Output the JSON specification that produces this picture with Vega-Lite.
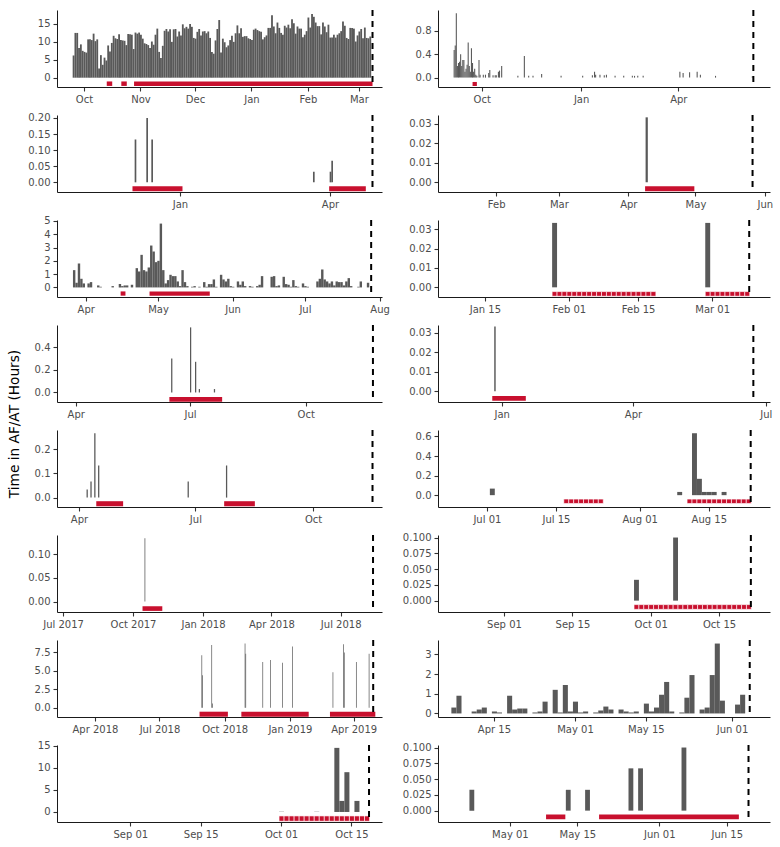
{
"$schema":"https://vega.github.io/schema/vega-lite/v6.json",
"background":"white",
"padding":{"left":8,"top":9,"right":4,"bottom":4},
"title":{"text":"Time in AF/AT (Hours)","orient":"left","anchor":"middle","fontSize":13.7,"fontWeight":"normal","font":"DejaVu Sans","color":"black","offset":6},
"columns":2,
"bounds":"flush",
"spacing":{"row":28,"column":56},
"config":{"view":{"stroke":null},"font":"DejaVu Sans",
"axis":{"grid":false,"domainColor":"#1a1a1a","domainWidth":1,"tickColor":"#333333","tickWidth":1.1,"tickSize":4,"labelColor":"#4d4d4d","labelFontSize":10,"labelFont":"DejaVu Sans","labelPadding":3,"labelFlush":false,"labelOverlap":false}},
"datasets":{
"bL1":[{"d":"2018-09-25","v":6.2},{"d":"2018-09-26","v":12.5},{"d":"2018-09-27","v":12.5},{"d":"2018-09-28","v":8.3},{"d":"2018-09-29","v":9.3},{"d":"2018-09-30","v":7.5},
{"d":"2018-10-01","v":7.2},{"d":"2018-10-02","v":7.0},{"d":"2018-10-03","v":10.7},{"d":"2018-10-04","v":10.7},{"d":"2018-10-05","v":10.5},{"d":"2018-10-06","v":12.3},{"d":"2018-10-07","v":10.2},{"d":"2018-10-08","v":10.7},{"d":"2018-10-09","v":2.6},{"d":"2018-10-10","v":6.3},{"d":"2018-10-11","v":3.6},{"d":"2018-10-12","v":5.6},{"d":"2018-10-13","v":4.8},{"d":"2018-10-14","v":9.0},{"d":"2018-10-15","v":7.3},{"d":"2018-10-16","v":9.7},{"d":"2018-10-17","v":11.7},{"d":"2018-10-18","v":11.0},{"d":"2018-10-19","v":10.8},{"d":"2018-10-20","v":12.1},{"d":"2018-10-21","v":10.5},{"d":"2018-10-22","v":10.4},{"d":"2018-10-23","v":10.3},{"d":"2018-10-24","v":9.1},{"d":"2018-10-25","v":12.2},{"d":"2018-10-26","v":12.1},{"d":"2018-10-27","v":12.0},{"d":"2018-10-28","v":8.0},{"d":"2018-10-29","v":12.6},{"d":"2018-10-30","v":12.3},{"d":"2018-10-31","v":12.6},
{"d":"2018-11-01","v":12.0},{"d":"2018-11-02","v":10.9},{"d":"2018-11-03","v":9.6},{"d":"2018-11-04","v":9.4},{"d":"2018-11-05","v":9.1},{"d":"2018-11-06","v":8.3},{"d":"2018-11-07","v":10.1},{"d":"2018-11-08","v":9.2},{"d":"2018-11-09","v":12.0},{"d":"2018-11-10","v":13.7},{"d":"2018-11-11","v":7.2},{"d":"2018-11-12","v":5.5},{"d":"2018-11-13","v":8.9},{"d":"2018-11-14","v":13.1},{"d":"2018-11-15","v":13.6},{"d":"2018-11-16","v":12.9},{"d":"2018-11-17","v":13.5},{"d":"2018-11-18","v":10.0},{"d":"2018-11-19","v":13.5},{"d":"2018-11-20","v":13.6},{"d":"2018-11-21","v":11.5},{"d":"2018-11-22","v":12.9},{"d":"2018-11-23","v":11.8},{"d":"2018-11-24","v":14.9},{"d":"2018-11-25","v":13.8},{"d":"2018-11-26","v":14.2},{"d":"2018-11-27","v":13.7},{"d":"2018-11-28","v":15.0},{"d":"2018-11-29","v":14.2},{"d":"2018-11-30","v":11.1},
{"d":"2018-12-01","v":10.9},{"d":"2018-12-02","v":12.8},{"d":"2018-12-03","v":13.6},{"d":"2018-12-04","v":11.8},{"d":"2018-12-05","v":12.9},{"d":"2018-12-06","v":13.0},{"d":"2018-12-07","v":12.4},{"d":"2018-12-08","v":12.9},{"d":"2018-12-09","v":11.1},{"d":"2018-12-10","v":7.2},{"d":"2018-12-11","v":6.7},{"d":"2018-12-12","v":10.4},{"d":"2018-12-13","v":13.6},{"d":"2018-12-14","v":16.1},{"d":"2018-12-15","v":7.0},{"d":"2018-12-16","v":10.9},{"d":"2018-12-17","v":9.9},{"d":"2018-12-18","v":8.5},{"d":"2018-12-19","v":9.0},{"d":"2018-12-20","v":10.5},{"d":"2018-12-21","v":11.7},{"d":"2018-12-22","v":10.0},{"d":"2018-12-23","v":12.4},{"d":"2018-12-24","v":14.6},{"d":"2018-12-25","v":12.4},{"d":"2018-12-26","v":13.8},{"d":"2018-12-27","v":11.4},{"d":"2018-12-28","v":11.6},{"d":"2018-12-29","v":11.6},{"d":"2018-12-30","v":11.0},{"d":"2018-12-31","v":10.8},
{"d":"2019-01-01","v":10.5},{"d":"2019-01-02","v":13.4},{"d":"2019-01-03","v":13.7},{"d":"2019-01-04","v":13.3},{"d":"2019-01-05","v":13.0},{"d":"2019-01-06","v":12.8},{"d":"2019-01-07","v":10.7},{"d":"2019-01-08","v":11.3},{"d":"2019-01-09","v":11.8},{"d":"2019-01-10","v":13.9},{"d":"2019-01-11","v":13.9},{"d":"2019-01-12","v":17.4},{"d":"2019-01-13","v":14.3},{"d":"2019-01-14","v":12.4},{"d":"2019-01-15","v":15.4},{"d":"2019-01-16","v":13.9},{"d":"2019-01-17","v":12.5},{"d":"2019-01-18","v":12.0},{"d":"2019-01-19","v":14.5},{"d":"2019-01-20","v":14.0},{"d":"2019-01-21","v":14.8},{"d":"2019-01-22","v":13.8},{"d":"2019-01-23","v":16.3},{"d":"2019-01-24","v":15.2},{"d":"2019-01-25","v":12.3},{"d":"2019-01-26","v":14.3},{"d":"2019-01-27","v":13.7},{"d":"2019-01-28","v":13.7},{"d":"2019-01-29","v":11.3},{"d":"2019-01-30","v":12.0},{"d":"2019-01-31","v":13.0},
{"d":"2019-02-01","v":16.8},{"d":"2019-02-02","v":14.0},{"d":"2019-02-03","v":17.8},{"d":"2019-02-04","v":17.0},{"d":"2019-02-05","v":15.4},{"d":"2019-02-06","v":14.4},{"d":"2019-02-07","v":14.4},{"d":"2019-02-08","v":12.1},{"d":"2019-02-09","v":15.4},{"d":"2019-02-10","v":14.3},{"d":"2019-02-11","v":12.7},{"d":"2019-02-12","v":14.8},{"d":"2019-02-13","v":11.2},{"d":"2019-02-14","v":11.2},{"d":"2019-02-15","v":12.0},{"d":"2019-02-16","v":11.2},{"d":"2019-02-17","v":12.0},{"d":"2019-02-18","v":12.4},{"d":"2019-02-19","v":13.0},{"d":"2019-02-20","v":15.7},{"d":"2019-02-21","v":14.5},{"d":"2019-02-22","v":11.1},{"d":"2019-02-23","v":10.8},{"d":"2019-02-24","v":13.9},{"d":"2019-02-25","v":13.9},{"d":"2019-02-26","v":13.7},{"d":"2019-02-27","v":10.1},{"d":"2019-02-28","v":11.8},
{"d":"2019-03-01","v":12.9},{"d":"2019-03-02","v":13.6},{"d":"2019-03-03","v":11.0},{"d":"2019-03-04","v":14.0},{"d":"2019-03-05","v":11.1},{"d":"2019-03-06","v":11.0},{"d":"2019-03-07","v":11.5}],
"rL1":[{"s":"2018-10-14","e":"2018-10-17"},{"s":"2018-10-22","e":"2018-10-25"},{"s":"2018-10-29","e":"2019-03-09"}],
"bR1":[{"d":"2018-09-05","v":0.47},{"d":"2018-09-06","v":0.55},{"d":"2018-09-07","v":1.1},{"d":"2018-09-08","v":0.2},{"d":"2018-09-09","v":0.25},{"d":"2018-09-10","v":0.27},{"d":"2018-09-11","v":0.4},{"d":"2018-09-12","v":0.2},{"d":"2018-09-13","v":0.3},{"d":"2018-09-14","v":0.3},{"d":"2018-09-15","v":0.1},{"d":"2018-09-16","v":0.15},{"d":"2018-09-17","v":0.22},{"d":"2018-09-18","v":0.6},{"d":"2018-09-19","v":0.2},{"d":"2018-09-20","v":0.1},{"d":"2018-09-21","v":0.5},{"d":"2018-09-22","v":0.25},{"d":"2018-09-23","v":0.1},{"d":"2018-09-24","v":0.15},{"d":"2018-09-25","v":0.05},{"d":"2018-09-26","v":0.03},{"d":"2018-09-28","v":0.3},{"d":"2018-09-29","v":0.05},{"d":"2018-10-02","v":0.05},{"d":"2018-10-04","v":0.05},{"d":"2018-10-07","v":0.08},{"d":"2018-10-08","v":0.13},{"d":"2018-10-11","v":0.04},{"d":"2018-10-13","v":0.04},{"d":"2018-10-14","v":0.04},{"d":"2018-10-16","v":0.1},{"d":"2018-10-17","v":0.12},{"d":"2018-10-19","v":0.2},{"d":"2018-11-03","v":0.03},{"d":"2018-11-09","v":0.37},{"d":"2018-11-13","v":0.03},{"d":"2018-11-17","v":0.03},{"d":"2018-11-25","v":0.06},{"d":"2018-12-13","v":0.03},{"d":"2019-01-02","v":0.03},{"d":"2019-01-11","v":0.04},{"d":"2019-01-13","v":0.1},{"d":"2019-01-14","v":0.05},{"d":"2019-01-18","v":0.05},{"d":"2019-01-22","v":0.04},{"d":"2019-01-24","v":0.05},{"d":"2019-02-01","v":0.03},{"d":"2019-02-09","v":0.03},{"d":"2019-02-17","v":0.03},{"d":"2019-02-19","v":0.03},{"d":"2019-02-22","v":0.03},{"d":"2019-02-27","v":0.03},{"d":"2019-04-02","v":0.1},{"d":"2019-04-05","v":0.08},{"d":"2019-04-11","v":0.09},{"d":"2019-04-18","v":0.1},{"d":"2019-04-21","v":0.05},{"d":"2019-05-05","v":0.03},{"d":"2019-06-08","v":0.02}],
"rR1":[{"s":"2018-09-23","e":"2018-09-27"}],
"bL2":[{"d":"2018-12-05","v":0.133},{"d":"2018-12-12","v":0.2},{"d":"2018-12-15","v":0.133},{"d":"2019-03-22","v":0.033},{"d":"2019-04-01","v":0.033},{"d":"2019-04-02","v":0.067}],
"rL2":[{"s":"2018-12-04","e":"2019-01-03"},{"s":"2019-04-01","e":"2019-04-23"}],
"bR2":[{"d":"2019-04-09","v":0.0333}],
"rR2":[{"s":"2019-04-09","e":"2019-05-01"}],
"bL3":[{"d":"2019-03-27","v":1.3},{"d":"2019-03-28","v":0.35},{"d":"2019-03-29","v":1.8},{"d":"2019-03-30","v":0.65},{"d":"2019-03-31","v":0.3},{"d":"2019-04-02","v":0.3},{"d":"2019-04-03","v":0.4},{"d":"2019-04-06","v":0.15},{"d":"2019-04-07","v":0.05},{"d":"2019-04-12","v":0.1},{"d":"2019-04-15","v":0.25},{"d":"2019-04-16","v":0.1},{"d":"2019-04-17","v":0.15},{"d":"2019-04-18","v":0.15},{"d":"2019-04-20","v":0.2},{"d":"2019-04-22","v":1.45},{"d":"2019-04-23","v":1.2},{"d":"2019-04-24","v":2.45},{"d":"2019-04-25","v":1.3},{"d":"2019-04-26","v":1.2},{"d":"2019-04-27","v":1.5},{"d":"2019-04-28","v":3.15},{"d":"2019-04-29","v":2.7},{"d":"2019-04-30","v":1.9},{"d":"2019-05-01","v":2.0},{"d":"2019-05-02","v":4.8},{"d":"2019-05-03","v":1.3},{"d":"2019-05-04","v":0.3},{"d":"2019-05-05","v":0.55},{"d":"2019-05-06","v":0.95},{"d":"2019-05-07","v":0.85},{"d":"2019-05-08","v":0.85},{"d":"2019-05-09","v":0.45},{"d":"2019-05-10","v":0.1},{"d":"2019-05-11","v":1.3},{"d":"2019-05-12","v":0.4},{"d":"2019-05-13","v":0.1},{"d":"2019-05-15","v":0.05},{"d":"2019-05-16","v":0.1},{"d":"2019-05-18","v":0.05},{"d":"2019-05-20","v":0.4},{"d":"2019-05-21","v":0.05},{"d":"2019-05-22","v":0.25},{"d":"2019-05-23","v":0.25},{"d":"2019-05-24","v":0.6},{"d":"2019-05-25","v":0.05},{"d":"2019-05-27","v":0.95},{"d":"2019-05-28","v":0.6},{"d":"2019-05-29","v":0.45},{"d":"2019-05-30","v":0.65},{"d":"2019-05-31","v":0.1},{"d":"2019-06-01","v":0.05},{"d":"2019-06-03","v":0.45},{"d":"2019-06-04","v":0.2},{"d":"2019-06-05","v":0.45},{"d":"2019-06-06","v":0.1},{"d":"2019-06-08","v":0.1},{"d":"2019-06-09","v":0.05},{"d":"2019-06-11","v":0.1},{"d":"2019-06-12","v":0.2},{"d":"2019-06-13","v":0.85},{"d":"2019-06-17","v":0.8},{"d":"2019-06-18","v":0.85},{"d":"2019-06-19","v":0.1},{"d":"2019-06-20","v":0.15},{"d":"2019-06-22","v":0.8},{"d":"2019-06-23","v":0.25},{"d":"2019-06-24","v":0.2},{"d":"2019-06-25","v":0.05},{"d":"2019-06-26","v":0.55},{"d":"2019-06-27","v":0.1},{"d":"2019-06-28","v":0.05},{"d":"2019-06-30","v":0.3},{"d":"2019-07-01","v":0.1},{"d":"2019-07-02","v":0.05},{"d":"2019-07-06","v":0.45},{"d":"2019-07-07","v":0.65},{"d":"2019-07-08","v":1.35},{"d":"2019-07-09","v":0.6},{"d":"2019-07-10","v":0.45},{"d":"2019-07-11","v":0.3},{"d":"2019-07-12","v":0.45},{"d":"2019-07-13","v":0.15},{"d":"2019-07-14","v":0.45},{"d":"2019-07-15","v":0.4},{"d":"2019-07-16","v":0.4},{"d":"2019-07-17","v":0.15},{"d":"2019-07-18","v":0.45},{"d":"2019-07-19","v":0.7},{"d":"2019-07-20","v":0.1},{"d":"2019-07-23","v":0.05},{"d":"2019-07-24","v":0.45},{"d":"2019-07-27","v":0.35}],
"rL3":[{"s":"2019-04-16","e":"2019-04-18"},{"s":"2019-04-28","e":"2019-05-23"}],
"bR3":[{"d":"2020-01-29","v":0.0333},{"d":"2020-02-29","v":0.0333}],
"dR3":[{"d":"2020-01-29"},{"d":"2020-01-30"},{"d":"2020-01-31"},{"d":"2020-02-01"},{"d":"2020-02-02"},{"d":"2020-02-03"},{"d":"2020-02-04"},{"d":"2020-02-05"},{"d":"2020-02-06"},{"d":"2020-02-07"},{"d":"2020-02-08"},{"d":"2020-02-09"},{"d":"2020-02-10"},{"d":"2020-02-11"},{"d":"2020-02-12"},{"d":"2020-02-13"},{"d":"2020-02-14"},{"d":"2020-02-15"},{"d":"2020-02-16"},{"d":"2020-02-17"},{"d":"2020-02-18"},{"d":"2020-02-29"},{"d":"2020-03-01"},{"d":"2020-03-02"},{"d":"2020-03-03"},{"d":"2020-03-04"},{"d":"2020-03-05"},{"d":"2020-03-06"},{"d":"2020-03-07"},{"d":"2020-03-08"}],
"bL4":[{"d":"2019-06-16","v":0.3},{"d":"2019-07-01","v":0.573},{"d":"2019-07-05","v":0.27},{"d":"2019-07-08","v":0.03},{"d":"2019-07-20","v":0.03}],
"rL4":[{"s":"2019-06-15","e":"2019-07-27"}],
"bR4":[{"d":"2018-12-27","v":0.0333}],
"rR4":[{"s":"2018-12-26","e":"2019-01-18"}],
"bL5":[{"d":"2019-04-07","v":0.033},{"d":"2019-04-10","v":0.067},{"d":"2019-04-13","v":0.267},{"d":"2019-04-16","v":0.133},{"d":"2019-06-25","v":0.067},{"d":"2019-07-25","v":0.133}],
"rL5":[{"s":"2019-04-15","e":"2019-05-06"},{"s":"2019-07-24","e":"2019-08-17"}],
"bR5":[{"d":"2019-07-02","v":0.067},{"d":"2019-08-09","v":0.033},{"d":"2019-08-12","v":0.633},{"d":"2019-08-13","v":0.167},{"d":"2019-08-14","v":0.033},{"d":"2019-08-15","v":0.033},{"d":"2019-08-16","v":0.033},{"d":"2019-08-18","v":0.033}],
"dR5":[{"d":"2019-07-17"},{"d":"2019-07-18"},{"d":"2019-07-19"},{"d":"2019-07-20"},{"d":"2019-07-21"},{"d":"2019-07-22"},{"d":"2019-07-23"},{"d":"2019-07-24"},{"d":"2019-08-11"},{"d":"2019-08-12"},{"d":"2019-08-13"},{"d":"2019-08-14"},{"d":"2019-08-15"},{"d":"2019-08-16"},{"d":"2019-08-17"},{"d":"2019-08-18"},{"d":"2019-08-19"},{"d":"2019-08-20"},{"d":"2019-08-21"},{"d":"2019-08-22"},{"d":"2019-08-23"}],
"bL6":[{"d":"2017-10-16","v":0.133}],
"rL6":[{"s":"2017-10-14","e":"2017-11-09"}],
"bR6":[{"d":"2019-09-28","v":0.033},{"d":"2019-10-06","v":0.1}],
"dR6":[{"d":"2019-09-28"},{"d":"2019-09-29"},{"d":"2019-09-30"},{"d":"2019-10-01"},{"d":"2019-10-02"},{"d":"2019-10-03"},{"d":"2019-10-04"},{"d":"2019-10-05"},{"d":"2019-10-06"},{"d":"2019-10-07"},{"d":"2019-10-08"},{"d":"2019-10-09"},{"d":"2019-10-10"},{"d":"2019-10-11"},{"d":"2019-10-12"},{"d":"2019-10-13"},{"d":"2019-10-14"},{"d":"2019-10-15"},{"d":"2019-10-16"},{"d":"2019-10-17"},{"d":"2019-10-18"},{"d":"2019-10-19"},{"d":"2019-10-20"},{"d":"2019-10-21"}],
"bL7":[{"d":"2018-08-29","v":7.1},{"d":"2018-08-30","v":4.4},{"d":"2018-09-12","v":8.5},{"d":"2018-09-13","v":0.55},{"d":"2018-10-29","v":8.7},{"d":"2018-10-30","v":7.3},{"d":"2018-11-23","v":6.2},{"d":"2018-12-04","v":6.45},{"d":"2018-12-21","v":6.1},{"d":"2019-01-04","v":8.3},{"d":"2019-03-02","v":4.8},{"d":"2019-03-17","v":8.6},{"d":"2019-03-18","v":7.5},{"d":"2019-04-04","v":6.2},{"d":"2019-04-22","v":7.3}],
"rL7":[{"s":"2018-08-27","e":"2018-10-06"},{"s":"2018-10-25","e":"2019-01-28"},{"s":"2019-02-27","e":"2019-05-02"}],
"bR7":[{"d":"2019-04-07","v":0.3},{"d":"2019-04-08","v":0.9},{"d":"2019-04-11","v":0.1},{"d":"2019-04-12","v":0.2},{"d":"2019-04-13","v":0.3},{"d":"2019-04-15","v":0.1},{"d":"2019-04-16","v":0.05},{"d":"2019-04-18","v":0.9},{"d":"2019-04-19","v":0.2},{"d":"2019-04-20","v":0.25},{"d":"2019-04-21","v":0.25},{"d":"2019-04-23","v":0.05},{"d":"2019-04-24","v":0.1},{"d":"2019-04-25","v":0.6},{"d":"2019-04-27","v":1.2},{"d":"2019-04-28","v":0.05},{"d":"2019-04-29","v":1.45},{"d":"2019-04-30","v":0.1},{"d":"2019-05-01","v":0.6},{"d":"2019-05-02","v":0.05},{"d":"2019-05-03","v":0.1},{"d":"2019-05-05","v":0.05},{"d":"2019-05-06","v":0.15},{"d":"2019-05-07","v":0.35},{"d":"2019-05-08","v":0.2},{"d":"2019-05-10","v":0.2},{"d":"2019-05-11","v":0.1},{"d":"2019-05-12","v":0.05},{"d":"2019-05-13","v":0.1},{"d":"2019-05-15","v":0.5},{"d":"2019-05-16","v":0.1},{"d":"2019-05-17","v":0.3},{"d":"2019-05-18","v":0.95},{"d":"2019-05-19","v":1.6},{"d":"2019-05-20","v":0.1},{"d":"2019-05-22","v":0.05},{"d":"2019-05-23","v":0.8},{"d":"2019-05-24","v":1.95},{"d":"2019-05-26","v":0.2},{"d":"2019-05-27","v":0.3},{"d":"2019-05-28","v":1.95},{"d":"2019-05-29","v":3.55},{"d":"2019-05-30","v":0.65},{"d":"2019-06-02","v":0.45},{"d":"2019-06-03","v":0.95}],
"bL8":[{"d":"2018-10-01","v":0.05},{"d":"2018-10-08","v":0.05},{"d":"2018-10-12","v":14.5},{"d":"2018-10-13","v":2.5},{"d":"2018-10-14","v":9.0},{"d":"2018-10-16","v":2.5}],
"dL8":[{"d":"2018-10-01"},{"d":"2018-10-02"},{"d":"2018-10-03"},{"d":"2018-10-04"},{"d":"2018-10-05"},{"d":"2018-10-06"},{"d":"2018-10-07"},{"d":"2018-10-08"},{"d":"2018-10-09"},{"d":"2018-10-10"},{"d":"2018-10-11"},{"d":"2018-10-12"},{"d":"2018-10-13"},{"d":"2018-10-14"},{"d":"2018-10-15"},{"d":"2018-10-16"},{"d":"2018-10-17"},{"d":"2018-10-18"}],
"bR8":[{"d":"2019-04-23","v":0.033},{"d":"2019-05-13","v":0.033},{"d":"2019-05-17","v":0.033},{"d":"2019-05-26","v":0.067},{"d":"2019-05-28","v":0.067},{"d":"2019-06-06","v":0.1}],
"rR8":[{"s":"2019-05-09","e":"2019-05-13"},{"s":"2019-05-20","e":"2019-06-18"}]
},
"concat":[
{"width":325,"height":77,"resolve":{"axis":{"x":"independent","y":"independent"}},"layer":[
{"data":{"name":"bL1"},"mark":{"type":"bar","color":"#595959","binSpacing":0,"timeUnitBandSize":0.9},"encoding":{"x":{"field":"d","type":"temporal","timeUnit":"utcyearmonthdate","title":null,"scale":{"type":"utc","nice":false,"domain":[{"year":2018,"month":9,"date":16,"hours":16,"utc":true},{"year":2019,"month":3,"date":14,"hours":5,"utc":true}]},"axis":{"format":"%b","values":[{"year":2018,"month":10,"date":1,"hours":12,"utc":true},{"year":2018,"month":11,"date":1,"hours":12,"utc":true},{"year":2018,"month":12,"date":1,"hours":12,"utc":true},{"year":2019,"month":1,"date":1,"hours":12,"utc":true},{"year":2019,"month":2,"date":1,"hours":12,"utc":true},{"year":2019,"month":3,"date":1,"hours":12,"utc":true}]}},"y":{"field":"v","type":"quantitative","title":null,"scale":{"nice":false,"zero":false,"domain":[-2.6,18.9]},"axis":{"format":"d","values":[0,5,10,15]}}}},
{"data":{"name":"rL1"},"mark":{"type":"rect","color":"#C8102E"},"encoding":{"x":{"field":"s","type":"temporal","title":null,"axis":null},"x2":{"field":"e"},"y":{"datum":-1.05,"axis":null},"y2":{"datum":-2.3}}},
{"data":{"values":[{"d":"2019-03-09"}]},"mark":{"type":"rule","color":"black","strokeDash":[6,5],"strokeWidth":2,"timeUnitBandPosition":0.5},"encoding":{"x":{"field":"d","type":"temporal","timeUnit":"utcyearmonthdate","title":null,"axis":null}}}
]},
{"width":332,"height":77,"resolve":{"axis":{"x":"independent","y":"independent"}},"layer":[
{"data":{"name":"bR1"},"mark":{"type":"bar","color":"#595959","binSpacing":0,"timeUnitBandSize":0.9},"encoding":{"x":{"field":"d","type":"temporal","timeUnit":"utcyearmonthdate","title":null,"scale":{"type":"utc","nice":false,"domain":[{"year":2018,"month":8,"date":22,"utc":true},{"year":2019,"month":6,"date":25,"hours":10,"utc":true}]},"axis":{"format":"%b","values":[{"year":2018,"month":10,"date":1,"hours":12,"utc":true},{"year":2019,"month":1,"date":1,"hours":12,"utc":true},{"year":2019,"month":4,"date":1,"hours":12,"utc":true}]}},"y":{"field":"v","type":"quantitative","title":null,"scale":{"nice":false,"zero":false,"domain":[-0.16,1.154]},"axis":{"format":".1f","values":[0,0.4,0.8]}}}},
{"data":{"name":"rR1"},"mark":{"type":"rect","color":"#C8102E"},"encoding":{"x":{"field":"s","type":"temporal","title":null,"axis":null},"x2":{"field":"e"},"y":{"datum":-0.074,"axis":null},"y2":{"datum":-0.143}}},
{"data":{"values":[{"d":"2019-06-10"}]},"mark":{"type":"rule","color":"black","strokeDash":[6,5],"strokeWidth":2,"timeUnitBandPosition":0.5},"encoding":{"x":{"field":"d","type":"temporal","timeUnit":"utcyearmonthdate","title":null,"axis":null}}}
]},
{"width":325,"height":77,"resolve":{"axis":{"x":"independent","y":"independent"}},"layer":[
{"data":{"name":"bL2"},"mark":{"type":"bar","color":"#595959","binSpacing":0,"timeUnitBandSize":0.9},"encoding":{"x":{"field":"d","type":"temporal","timeUnit":"utcyearmonthdate","title":null,"scale":{"type":"utc","nice":false,"domain":[{"year":2018,"month":10,"date":19,"hours":17,"utc":true},{"year":2019,"month":5,"date":2,"hours":17,"utc":true}]},"axis":{"format":"%b","values":[{"year":2019,"month":1,"date":1,"hours":12,"utc":true},{"year":2019,"month":4,"date":1,"hours":12,"utc":true}]}},"y":{"field":"v","type":"quantitative","title":null,"scale":{"nice":false,"zero":false,"domain":[-0.03,0.209]},"axis":{"format":".2f","values":[0,0.05,0.1,0.15,0.2]}}}},
{"data":{"name":"rL2"},"mark":{"type":"rect","color":"#C8102E"},"encoding":{"x":{"field":"s","type":"temporal","title":null,"axis":null},"x2":{"field":"e"},"y":{"datum":-0.0125,"axis":null},"y2":{"datum":-0.028}}},
{"data":{"values":[{"d":"2019-04-27"}]},"mark":{"type":"rule","color":"black","strokeDash":[6,5],"strokeWidth":2,"timeUnitBandPosition":0.5},"encoding":{"x":{"field":"d","type":"temporal","timeUnit":"utcyearmonthdate","title":null,"axis":null}}}
]},
{"width":332,"height":77,"resolve":{"axis":{"x":"independent","y":"independent"}},"layer":[
{"data":{"name":"bR2"},"mark":{"type":"bar","color":"#595959","binSpacing":0,"timeUnitBandSize":0.9},"encoding":{"x":{"field":"d","type":"temporal","timeUnit":"utcyearmonthdate","title":null,"scale":{"type":"utc","nice":false,"domain":[{"year":2019,"month":1,"date":6,"hours":12,"utc":true},{"year":2019,"month":6,"date":3,"hours":19,"utc":true}]},"axis":{"format":"%b","values":[{"year":2019,"month":2,"date":1,"hours":12,"utc":true},{"year":2019,"month":3,"date":1,"hours":12,"utc":true},{"year":2019,"month":4,"date":1,"hours":12,"utc":true},{"year":2019,"month":5,"date":1,"hours":12,"utc":true},{"year":2019,"month":6,"date":1,"hours":12,"utc":true}]}},"y":{"field":"v","type":"quantitative","title":null,"scale":{"nice":false,"zero":false,"domain":[-0.005,0.0345]},"axis":{"format":".2f","values":[0,0.01,0.02,0.03]}}}},
{"data":{"name":"rR2"},"mark":{"type":"rect","color":"#C8102E"},"encoding":{"x":{"field":"s","type":"temporal","title":null,"axis":null},"x2":{"field":"e"},"y":{"datum":-0.0021,"axis":null},"y2":{"datum":-0.0046}}},
{"data":{"values":[{"d":"2019-05-27"}]},"mark":{"type":"rule","color":"black","strokeDash":[6,5],"strokeWidth":2,"timeUnitBandPosition":0.5},"encoding":{"x":{"field":"d","type":"temporal","timeUnit":"utcyearmonthdate","title":null,"axis":null}}}
]},
{"width":325,"height":77,"resolve":{"axis":{"x":"independent","y":"independent"}},"layer":[
{"data":{"name":"bL3"},"mark":{"type":"bar","color":"#595959","binSpacing":0,"timeUnitBandSize":0.9},"encoding":{"x":{"field":"d","type":"temporal","timeUnit":"utcyearmonthdate","title":null,"scale":{"type":"utc","nice":false,"domain":[{"year":2019,"month":3,"date":20,"hours":14,"utc":true},{"year":2019,"month":8,"date":2,"hours":12,"utc":true}]},"axis":{"format":"%b","values":[{"year":2019,"month":4,"date":1,"hours":12,"utc":true},{"year":2019,"month":5,"date":1,"hours":12,"utc":true},{"year":2019,"month":6,"date":1,"hours":12,"utc":true},{"year":2019,"month":7,"date":1,"hours":12,"utc":true},{"year":2019,"month":8,"date":1,"hours":12,"utc":true}]}},"y":{"field":"v","type":"quantitative","title":null,"scale":{"nice":false,"zero":false,"domain":[-0.72,5.07]},"axis":{"format":"d","values":[0,1,2,3,4,5]}}}},
{"data":{"name":"rL3"},"mark":{"type":"rect","color":"#C8102E"},"encoding":{"x":{"field":"s","type":"temporal","title":null,"axis":null},"x2":{"field":"e"},"y":{"datum":-0.3,"axis":null},"y2":{"datum":-0.62}}},
{"data":{"values":[{"d":"2019-07-29"}]},"mark":{"type":"rule","color":"black","strokeDash":[6,5],"strokeWidth":2,"timeUnitBandPosition":0.5},"encoding":{"x":{"field":"d","type":"temporal","timeUnit":"utcyearmonthdate","title":null,"axis":null}}}
]},
{"width":332,"height":77,"resolve":{"axis":{"x":"independent","y":"independent"}},"layer":[
{"data":{"name":"bR3"},"mark":{"type":"bar","color":"#595959","binSpacing":0,"timeUnitBandSize":0.9},"encoding":{"x":{"field":"d","type":"temporal","timeUnit":"utcyearmonthdate","title":null,"scale":{"type":"utc","nice":false,"domain":[{"year":2020,"month":1,"date":6,"utc":true},{"year":2020,"month":3,"date":13,"hours":5,"utc":true}]},"axis":{"format":"%b %d","values":[{"year":2020,"month":1,"date":15,"hours":12,"utc":true},{"year":2020,"month":2,"date":1,"hours":12,"utc":true},{"year":2020,"month":2,"date":15,"hours":12,"utc":true},{"year":2020,"month":3,"date":1,"hours":12,"utc":true}]}},"y":{"field":"v","type":"quantitative","title":null,"scale":{"nice":false,"zero":false,"domain":[-0.005,0.0348]},"axis":{"format":".2f","values":[0,0.01,0.02,0.03]}}}},
{"data":{"name":"dR3"},"mark":{"type":"bar","color":"#C8102E","stroke":"white","strokeWidth":0.6,"binSpacing":0},"encoding":{"x":{"field":"d","type":"temporal","timeUnit":"utcyearmonthdate","title":null,"axis":null},"y":{"datum":-0.0022,"axis":null},"y2":{"datum":-0.0046}}},
{"data":{"values":[{"d":"2020-03-09"}]},"mark":{"type":"rule","color":"black","strokeDash":[6,5],"strokeWidth":2,"timeUnitBandPosition":0.5},"encoding":{"x":{"field":"d","type":"temporal","timeUnit":"utcyearmonthdate","title":null,"axis":null}}}
]},
{"width":325,"height":77,"resolve":{"axis":{"x":"independent","y":"independent"}},"layer":[
{"data":{"name":"bL4"},"mark":{"type":"bar","color":"#595959","binSpacing":0,"timeUnitBandSize":0.9},"encoding":{"x":{"field":"d","type":"temporal","timeUnit":"utcyearmonthdate","title":null,"scale":{"type":"utc","nice":false,"domain":[{"year":2019,"month":3,"date":17,"hours":14,"utc":true},{"year":2019,"month":12,"date":1,"hours":5,"utc":true}]},"axis":{"format":"%b","values":[{"year":2019,"month":4,"date":1,"hours":12,"utc":true},{"year":2019,"month":7,"date":1,"hours":12,"utc":true},{"year":2019,"month":10,"date":1,"hours":12,"utc":true}]}},"y":{"field":"v","type":"quantitative","title":null,"scale":{"nice":false,"zero":false,"domain":[-0.084,0.594]},"axis":{"format":".1f","values":[0,0.2,0.4]}}}},
{"data":{"name":"rL4"},"mark":{"type":"rect","color":"#C8102E"},"encoding":{"x":{"field":"s","type":"temporal","title":null,"axis":null},"x2":{"field":"e"},"y":{"datum":-0.039,"axis":null},"y2":{"datum":-0.081}}},
{"data":{"values":[{"d":"2019-11-24"}]},"mark":{"type":"rule","color":"black","strokeDash":[6,5],"strokeWidth":2,"timeUnitBandPosition":0.5},"encoding":{"x":{"field":"d","type":"temporal","timeUnit":"utcyearmonthdate","title":null,"axis":null}}}
]},
{"width":332,"height":77,"resolve":{"axis":{"x":"independent","y":"independent"}},"layer":[
{"data":{"name":"bR4"},"mark":{"type":"bar","color":"#595959","binSpacing":0,"timeUnitBandSize":0.9},"encoding":{"x":{"field":"d","type":"temporal","timeUnit":"utcyearmonthdate","title":null,"scale":{"type":"utc","nice":false,"domain":[{"year":2018,"month":11,"date":18,"hours":19,"utc":true},{"year":2019,"month":7,"date":4,"hours":10,"utc":true}]},"axis":{"format":"%b","values":[{"year":2019,"month":1,"date":1,"hours":12,"utc":true},{"year":2019,"month":4,"date":1,"hours":12,"utc":true},{"year":2019,"month":7,"date":1,"hours":12,"utc":true}]}},"y":{"field":"v","type":"quantitative","title":null,"scale":{"nice":false,"zero":false,"domain":[-0.0055,0.0341]},"axis":{"format":".2f","values":[0,0.01,0.02,0.03]}}}},
{"data":{"name":"rR4"},"mark":{"type":"rect","color":"#C8102E"},"encoding":{"x":{"field":"s","type":"temporal","title":null,"axis":null},"x2":{"field":"e"},"y":{"datum":-0.0024,"axis":null},"y2":{"datum":-0.0048}}},
{"data":{"values":[{"d":"2019-06-23"}]},"mark":{"type":"rule","color":"black","strokeDash":[6,5],"strokeWidth":2,"timeUnitBandPosition":0.5},"encoding":{"x":{"field":"d","type":"temporal","timeUnit":"utcyearmonthdate","title":null,"axis":null}}}
]},
{"width":325,"height":77,"resolve":{"axis":{"x":"independent","y":"independent"}},"layer":[
{"data":{"name":"bL5"},"mark":{"type":"bar","color":"#595959","binSpacing":0,"timeUnitBandSize":0.9},"encoding":{"x":{"field":"d","type":"temporal","timeUnit":"utcyearmonthdate","title":null,"scale":{"type":"utc","nice":false,"domain":[{"year":2019,"month":3,"date":15,"hours":7,"utc":true},{"year":2019,"month":11,"date":24,"hours":10,"utc":true}]},"axis":{"format":"%b","values":[{"year":2019,"month":4,"date":1,"hours":12,"utc":true},{"year":2019,"month":7,"date":1,"hours":12,"utc":true},{"year":2019,"month":10,"date":1,"hours":12,"utc":true}]}},"y":{"field":"v","type":"quantitative","title":null,"scale":{"nice":false,"zero":false,"domain":[-0.039,0.28]},"axis":{"format":".1f","values":[0,0.1,0.2]}}}},
{"data":{"name":"rL5"},"mark":{"type":"rect","color":"#C8102E"},"encoding":{"x":{"field":"s","type":"temporal","title":null,"axis":null},"x2":{"field":"e"},"y":{"datum":-0.015,"axis":null},"y2":{"datum":-0.036}}},
{"data":{"values":[{"d":"2019-11-17"}]},"mark":{"type":"rule","color":"black","strokeDash":[6,5],"strokeWidth":2,"timeUnitBandPosition":0.5},"encoding":{"x":{"field":"d","type":"temporal","timeUnit":"utcyearmonthdate","title":null,"axis":null}}}
]},
{"width":332,"height":77,"resolve":{"axis":{"x":"independent","y":"independent"}},"layer":[
{"data":{"name":"bR5"},"mark":{"type":"bar","color":"#595959","binSpacing":0,"timeUnitBandSize":0.9},"encoding":{"x":{"field":"d","type":"temporal","timeUnit":"utcyearmonthdate","title":null,"scale":{"type":"utc","nice":false,"domain":[{"year":2019,"month":6,"date":21,"hours":14,"utc":true},{"year":2019,"month":8,"date":27,"hours":22,"utc":true}]},"axis":{"format":"%b %d","values":[{"year":2019,"month":7,"date":1,"hours":12,"utc":true},{"year":2019,"month":7,"date":15,"hours":12,"utc":true},{"year":2019,"month":8,"date":1,"hours":12,"utc":true},{"year":2019,"month":8,"date":15,"hours":12,"utc":true}]}},"y":{"field":"v","type":"quantitative","title":null,"scale":{"nice":false,"zero":false,"domain":[-0.121,0.666]},"axis":{"format":".1f","values":[0,0.2,0.4,0.6]}}}},
{"data":{"name":"dR5"},"mark":{"type":"bar","color":"#C8102E","stroke":"white","strokeWidth":0.6,"binSpacing":0},"encoding":{"x":{"field":"d","type":"temporal","timeUnit":"utcyearmonthdate","title":null,"axis":null},"y":{"datum":-0.04,"axis":null},"y2":{"datum":-0.085}}},
{"data":{"values":[{"d":"2019-08-24"}]},"mark":{"type":"rule","color":"black","strokeDash":[6,5],"strokeWidth":2,"timeUnitBandPosition":0.5},"encoding":{"x":{"field":"d","type":"temporal","timeUnit":"utcyearmonthdate","title":null,"axis":null}}}
]},
{"width":325,"height":77,"resolve":{"axis":{"x":"independent","y":"independent"}},"layer":[
{"data":{"name":"bL6"},"mark":{"type":"bar","color":"#595959","binSpacing":0,"timeUnitBandSize":0.9},"encoding":{"x":{"field":"d","type":"temporal","timeUnit":"utcyearmonthdate","title":null,"scale":{"type":"utc","nice":false,"domain":[{"year":2017,"month":6,"date":23,"hours":14,"utc":true},{"year":2018,"month":8,"date":24,"hours":19,"utc":true}]},"axis":{"format":"%b %Y","values":[{"year":2017,"month":7,"date":1,"hours":12,"utc":true},{"year":2017,"month":10,"date":1,"hours":12,"utc":true},{"year":2018,"month":1,"date":1,"hours":12,"utc":true},{"year":2018,"month":4,"date":1,"hours":12,"utc":true},{"year":2018,"month":7,"date":1,"hours":12,"utc":true}]}},"y":{"field":"v","type":"quantitative","title":null,"scale":{"nice":false,"zero":false,"domain":[-0.022,0.14]},"axis":{"format":".2f","values":[0,0.05,0.1]}}}},
{"data":{"name":"rL6"},"mark":{"type":"rect","color":"#C8102E"},"encoding":{"x":{"field":"s","type":"temporal","title":null,"axis":null},"x2":{"field":"e"},"y":{"datum":-0.0099,"axis":null},"y2":{"datum":-0.0197}}},
{"data":{"values":[{"d":"2018-08-13"}]},"mark":{"type":"rule","color":"black","strokeDash":[6,5],"strokeWidth":2,"timeUnitBandPosition":0.5},"encoding":{"x":{"field":"d","type":"temporal","timeUnit":"utcyearmonthdate","title":null,"axis":null}}}
]},
{"width":332,"height":77,"resolve":{"axis":{"x":"independent","y":"independent"}},"layer":[
{"data":{"name":"bR6"},"mark":{"type":"bar","color":"#595959","binSpacing":0,"timeUnitBandSize":0.9},"encoding":{"x":{"field":"d","type":"temporal","timeUnit":"utcyearmonthdate","title":null,"scale":{"type":"utc","nice":false,"domain":[{"year":2019,"month":8,"date":19,"utc":true},{"year":2019,"month":10,"date":25,"hours":22,"utc":true}]},"axis":{"format":"%b %d","values":[{"year":2019,"month":9,"date":1,"hours":12,"utc":true},{"year":2019,"month":9,"date":15,"hours":12,"utc":true},{"year":2019,"month":10,"date":1,"hours":12,"utc":true},{"year":2019,"month":10,"date":15,"hours":12,"utc":true}]}},"y":{"field":"v","type":"quantitative","title":null,"scale":{"nice":false,"zero":false,"domain":[-0.018,0.104]},"axis":{"format":".3f","values":[0,0.025,0.05,0.075,0.1]}}}},
{"data":{"name":"dR6"},"mark":{"type":"bar","color":"#C8102E","stroke":"white","strokeWidth":0.6,"binSpacing":0},"encoding":{"x":{"field":"d","type":"temporal","timeUnit":"utcyearmonthdate","title":null,"axis":null},"y":{"datum":-0.0063,"axis":null},"y2":{"datum":-0.0138}}},
{"data":{"values":[{"d":"2019-10-22"}]},"mark":{"type":"rule","color":"black","strokeDash":[6,5],"strokeWidth":2,"timeUnitBandPosition":0.5},"encoding":{"x":{"field":"d","type":"temporal","timeUnit":"utcyearmonthdate","title":null,"axis":null}}}
]},
{"width":325,"height":77,"resolve":{"axis":{"x":"independent","y":"independent"}},"layer":[
{"data":{"name":"bL7"},"mark":{"type":"bar","color":"#595959","binSpacing":0,"timeUnitBandSize":0.9},"encoding":{"x":{"field":"d","type":"temporal","timeUnit":"utcyearmonthdate","title":null,"scale":{"type":"utc","nice":false,"domain":[{"year":2018,"month":2,"date":6,"hours":22,"utc":true},{"year":2019,"month":5,"date":11,"hours":10,"utc":true}]},"axis":{"format":"%b %Y","values":[{"year":2018,"month":4,"date":1,"hours":12,"utc":true},{"year":2018,"month":7,"date":1,"hours":12,"utc":true},{"year":2018,"month":10,"date":1,"hours":12,"utc":true},{"year":2019,"month":1,"date":1,"hours":12,"utc":true},{"year":2019,"month":4,"date":1,"hours":12,"utc":true}]}},"y":{"field":"v","type":"quantitative","title":null,"scale":{"nice":false,"zero":false,"domain":[-1.27,9.18]},"axis":{"format":".1f","values":[0,2.5,5,7.5]}}}},
{"data":{"name":"rL7"},"mark":{"type":"rect","color":"#C8102E"},"encoding":{"x":{"field":"s","type":"temporal","title":null,"axis":null},"x2":{"field":"e"},"y":{"datum":-0.55,"axis":null},"y2":{"datum":-1.23}}},
{"data":{"values":[{"d":"2019-04-29"}]},"mark":{"type":"rule","color":"black","strokeDash":[6,5],"strokeWidth":2,"timeUnitBandPosition":0.5},"encoding":{"x":{"field":"d","type":"temporal","timeUnit":"utcyearmonthdate","title":null,"axis":null}}}
]},
{"width":332,"height":77,"resolve":{"axis":{"x":"independent","y":"independent"}},"layer":[
{"data":{"name":"bR7"},"mark":{"type":"bar","color":"#595959","binSpacing":0,"timeUnitBandSize":0.9},"encoding":{"x":{"field":"d","type":"temporal","timeUnit":"utcyearmonthdate","title":null,"scale":{"type":"utc","nice":false,"domain":[{"year":2019,"month":4,"date":4,"hours":11,"utc":true},{"year":2019,"month":6,"date":9,"utc":true}]},"axis":{"format":"%b %d","values":[{"year":2019,"month":4,"date":15,"hours":12,"utc":true},{"year":2019,"month":5,"date":1,"hours":12,"utc":true},{"year":2019,"month":5,"date":15,"hours":12,"utc":true},{"year":2019,"month":6,"date":1,"hours":12,"utc":true}]}},"y":{"field":"v","type":"quantitative","title":null,"scale":{"nice":false,"zero":false,"domain":[-0.18,3.73]},"axis":{"format":"d","values":[0,1,2,3]}}}},
{"data":{"values":[{"d":"2019-06-05"}]},"mark":{"type":"rule","color":"black","strokeDash":[6,5],"strokeWidth":2,"timeUnitBandPosition":0.5},"encoding":{"x":{"field":"d","type":"temporal","timeUnit":"utcyearmonthdate","title":null,"axis":null}}}
]},
{"width":325,"height":77,"resolve":{"axis":{"x":"independent","y":"independent"}},"layer":[
{"data":{"name":"bL8"},"mark":{"type":"bar","color":"#595959","binSpacing":0,"timeUnitBandSize":0.9},"encoding":{"x":{"field":"d","type":"temporal","timeUnit":"utcyearmonthdate","title":null,"scale":{"type":"utc","nice":false,"domain":[{"year":2018,"month":8,"date":17,"hours":22,"utc":true},{"year":2018,"month":10,"date":21,"hours":14,"utc":true}]},"axis":{"format":"%b %d","values":[{"year":2018,"month":9,"date":1,"hours":12,"utc":true},{"year":2018,"month":9,"date":15,"hours":12,"utc":true},{"year":2018,"month":10,"date":1,"hours":12,"utc":true},{"year":2018,"month":10,"date":15,"hours":12,"utc":true}]}},"y":{"field":"v","type":"quantitative","title":null,"scale":{"nice":false,"zero":false,"domain":[-2.27,15.15]},"axis":{"format":"d","values":[0,5,10,15]}}}},
{"data":{"name":"dL8"},"mark":{"type":"bar","color":"#C8102E","stroke":"white","strokeWidth":0.6,"binSpacing":0},"encoding":{"x":{"field":"d","type":"temporal","timeUnit":"utcyearmonthdate","title":null,"axis":null},"y":{"datum":-0.9,"axis":null},"y2":{"datum":-2.1}}},
{"data":{"values":[{"d":"2018-10-19"}]},"mark":{"type":"rule","color":"black","strokeDash":[6,5],"strokeWidth":2,"timeUnitBandPosition":0.5},"encoding":{"x":{"field":"d","type":"temporal","timeUnit":"utcyearmonthdate","title":null,"axis":null}}}
]},
{"width":332,"height":77,"resolve":{"axis":{"x":"independent","y":"independent"}},"layer":[
{"data":{"name":"bR8"},"mark":{"type":"bar","color":"#595959","binSpacing":0,"timeUnitBandSize":0.9},"encoding":{"x":{"field":"d","type":"temporal","timeUnit":"utcyearmonthdate","title":null,"scale":{"type":"utc","nice":false,"domain":[{"year":2019,"month":4,"date":16,"hours":14,"utc":true},{"year":2019,"month":6,"date":24,"hours":11,"utc":true}]},"axis":{"format":"%b %d","values":[{"year":2019,"month":5,"date":1,"hours":12,"utc":true},{"year":2019,"month":5,"date":15,"hours":12,"utc":true},{"year":2019,"month":6,"date":1,"hours":12,"utc":true},{"year":2019,"month":6,"date":15,"hours":12,"utc":true}]}},"y":{"field":"v","type":"quantitative","title":null,"scale":{"nice":false,"zero":false,"domain":[-0.018,0.104]},"axis":{"format":".3f","values":[0,0.025,0.05,0.075,0.1]}}}},
{"data":{"name":"rR8"},"mark":{"type":"rect","color":"#C8102E"},"encoding":{"x":{"field":"s","type":"temporal","title":null,"axis":null},"x2":{"field":"e"},"y":{"datum":-0.0063,"axis":null},"y2":{"datum":-0.0138}}},
{"data":{"values":[{"d":"2019-06-20"}]},"mark":{"type":"rule","color":"black","strokeDash":[6,5],"strokeWidth":2,"timeUnitBandPosition":0.5},"encoding":{"x":{"field":"d","type":"temporal","timeUnit":"utcyearmonthdate","title":null,"axis":null}}}
]}
]
}
